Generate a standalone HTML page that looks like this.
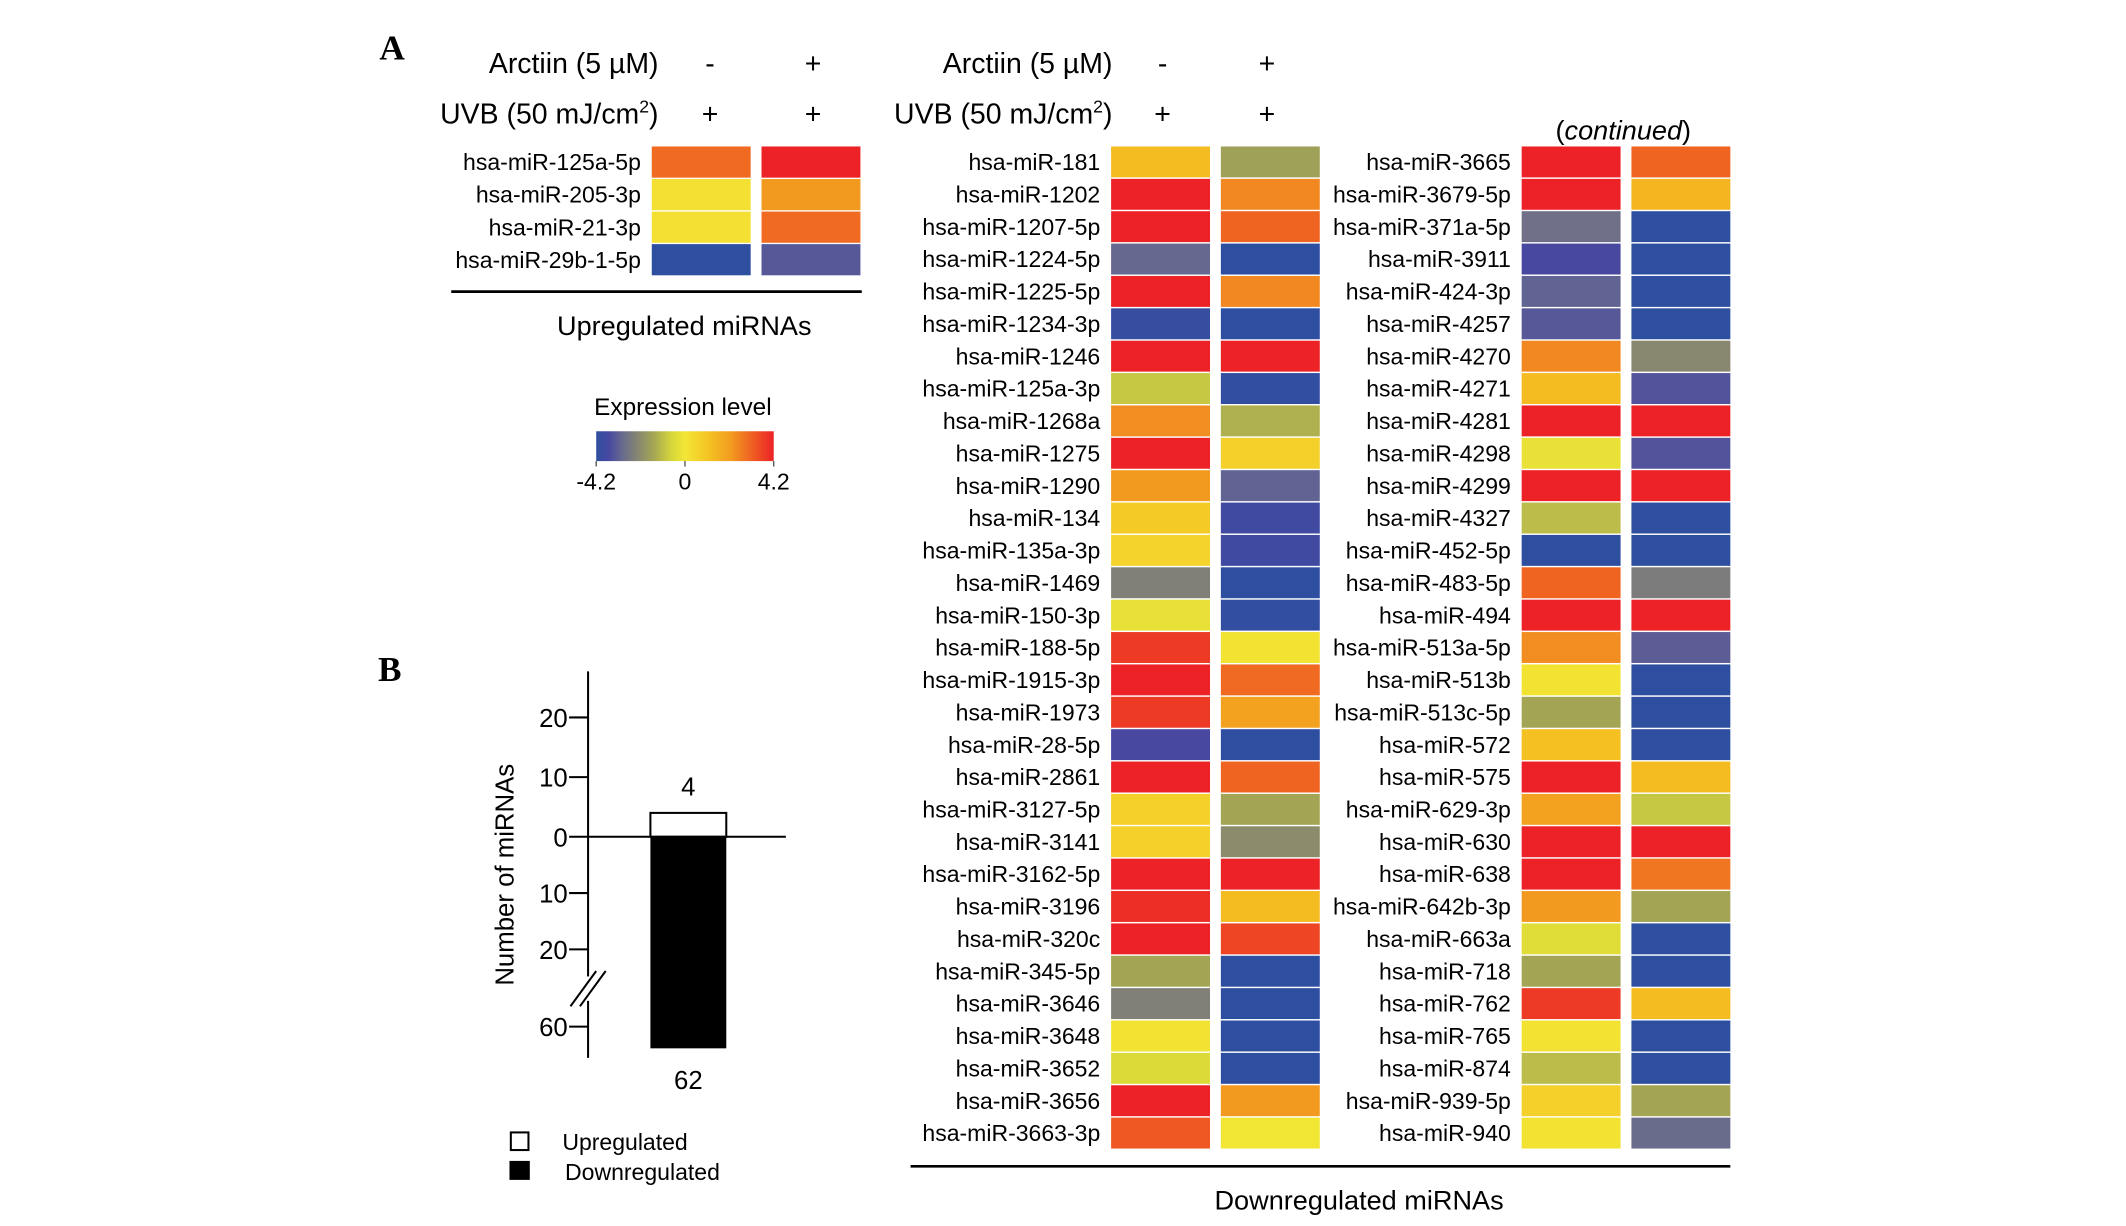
<!DOCTYPE html>
<html><head><meta charset="utf-8">
<style>
html,body{margin:0;padding:0;background:#fff;}
svg{display:block;font-family:"Liberation Sans",Arial,sans-serif;}
</style></head>
<body>
<svg id="fig" width="2126" height="1226" viewBox="0 0 1569 904" preserveAspectRatio="none" xmlns="http://www.w3.org/2000/svg">
<defs>
<linearGradient id="cbar" x1="0" x2="1" y1="0" y2="0">
<stop offset="0" stop-color="#2e4fa0"/><stop offset="0.071" stop-color="#4848a0"/>
<stop offset="0.143" stop-color="#666890"/><stop offset="0.214" stop-color="#808078"/>
<stop offset="0.321" stop-color="#a3a555"/><stop offset="0.429" stop-color="#d8d83a"/>
<stop offset="0.5" stop-color="#f2e635"/><stop offset="0.643" stop-color="#f5c022"/>
<stop offset="0.762" stop-color="#f29a20"/><stop offset="0.857" stop-color="#f06a22"/>
<stop offset="1" stop-color="#ec2227"/>
</linearGradient>
</defs>
<text x="280" y="44" font-family="Liberation Serif,serif" font-weight="bold" font-size="26">A</text>
<text x="279" y="502" font-family="Liberation Serif,serif" font-weight="bold" font-size="26">B</text>
<g id="heat"></g>
<g id="bars"></g>
</svg>
<script>
const upNames=["hsa-miR-125a-5p","hsa-miR-205-3p","hsa-miR-21-3p","hsa-miR-29b-1-5p"];
const upCtrl=[3.0,0.2,0.2,-4.2];
const upArc=[4.2,2.2,3.0,-3.3];
const downNames1=["hsa-miR-181","hsa-miR-1202","hsa-miR-1207-5p","hsa-miR-1224-5p","hsa-miR-1225-5p","hsa-miR-1234-3p","hsa-miR-1246","hsa-miR-125a-3p","hsa-miR-1268a","hsa-miR-1275","hsa-miR-1290","hsa-miR-134","hsa-miR-135a-3p","hsa-miR-1469","hsa-miR-150-3p","hsa-miR-188-5p","hsa-miR-1915-3p","hsa-miR-1973","hsa-miR-28-5p","hsa-miR-2861","hsa-miR-3127-5p","hsa-miR-3141","hsa-miR-3162-5p","hsa-miR-3196","hsa-miR-320c","hsa-miR-345-5p","hsa-miR-3646","hsa-miR-3648","hsa-miR-3652","hsa-miR-3656","hsa-miR-3663-3p"];
const downCtrl1=[1.3,4.2,4.2,-3.0,4.2,-4.0,4.2,-0.9,2.4,4.2,2.2,0.9,0.6,-2.4,-0.2,3.8,4.2,3.8,-3.6,4.2,0.7,0.7,4.2,4.0,4.2,-1.5,-2.4,0.1,-0.5,4.2,3.3];
const downArc1=[-1.6,2.5,3.1,-4.2,2.5,-4.2,4.2,-4.1,-1.3,0.7,-3.1,-3.8,-3.8,-4.2,-4.1,0.1,3.0,2.0,-4.2,3.1,-1.5,-2.1,4.2,1.3,3.6,-4.2,-4.2,-4.2,-4.2,2.2,0.0];
const downNames2=["hsa-miR-3665","hsa-miR-3679-5p","hsa-miR-371a-5p","hsa-miR-3911","hsa-miR-424-3p","hsa-miR-4257","hsa-miR-4270","hsa-miR-4271","hsa-miR-4281","hsa-miR-4298","hsa-miR-4299","hsa-miR-4327","hsa-miR-452-5p","hsa-miR-483-5p","hsa-miR-494","hsa-miR-513a-5p","hsa-miR-513b","hsa-miR-513c-5p","hsa-miR-572","hsa-miR-575","hsa-miR-629-3p","hsa-miR-630","hsa-miR-638","hsa-miR-642b-3p","hsa-miR-663a","hsa-miR-718","hsa-miR-762","hsa-miR-765","hsa-miR-874","hsa-miR-939-5p","hsa-miR-940"];
const downCtrl2=[4.2,4.2,-2.8,-3.6,-3.1,-3.3,2.5,1.3,4.2,-0.2,4.2,-1.1,-4.2,3.1,4.2,2.4,0.1,-1.5,1.2,4.2,2.0,4.2,4.2,2.2,-0.4,-1.5,3.8,0.1,-1.1,0.7,0.1];
const downArc2=[3.1,1.5,-4.2,-4.2,-4.2,-4.2,-2.2,-3.4,4.2,-3.4,4.2,-4.2,-4.2,-2.5,4.2,-3.2,-4.2,-4.2,-4.2,1.3,-0.9,4.2,2.8,-1.5,-4.2,-4.2,1.3,-4.2,-4.2,-1.5,-2.9];
const cbarTicks=[-4.2,0,4.2];
const barCats=["Upregulated","Downregulated"];
const barVals=[4,62];
const yTicksUp=[20,10,0];
const yTicksDown=[10,20,60];

const NS="http://www.w3.org/2000/svg";
function mk(tag,attrs,parent,text){const e=document.createElementNS(NS,tag);for(const k in attrs)e.setAttribute(k,attrs[k]);if(text!==undefined)e.textContent=text;parent.appendChild(e);return e;}
const stops=[[-4.2,[46,79,160]],[-3.6,[72,72,160]],[-3.0,[102,104,144]],[-2.4,[128,128,120]],[-1.5,[163,165,85]],[-0.6,[216,216,58]],[0,[242,230,53]],[1.2,[245,192,34]],[2.2,[242,154,32]],[3.0,[240,106,34]],[4.2,[236,34,39]]];
function cmap(v){v=Math.max(-4.2,Math.min(4.2,v));for(let i=0;i<stops.length-1;i++){const a=stops[i],b=stops[i+1];if(v<=b[0]){const t=(v-a[0])/(b[0]-a[0]);const c=a[1].map((x,j)=>Math.round(x+(b[1][j]-x)*t));return `rgb(${c})`;}}return "rgb(236,34,39)";}
const heat=document.getElementById('heat');
function header(xEnd,xMinus,xPlus){
  let t=mk('text',{x:xEnd,y:54,'text-anchor':'end','font-size':21},heat,'Arctiin (5 µM)');
  
  
  t=mk('text',{x:xEnd,y:91,'text-anchor':'end','font-size':21},heat);
  
  
  t.appendChild(document.createTextNode('UVB (50 mJ/cm'));
  mk('tspan',{'font-size':13,dy:-8},t,'2');
  mk('tspan',{dy:8},t,')');
  [[xMinus,54,'-'],[xPlus,54,'+'],[xMinus,91,'+'],[xPlus,91,'+']].forEach(p=>{
    const m=mk('text',{x:p[0],y:p[1],'text-anchor':'middle','font-size':21},heat,p[2]);
    
    
  });
}
header(486,524,600);
header(821,858,935);
function column(names,c1,c2,labelX,x1,x2,y0,pitch,h,w){
  names.forEach((n,i)=>{
    const y=y0+i*pitch;
    const l=mk('text',{x:labelX,y:y+h/2+6,'text-anchor':'end','font-size':17},heat,n);
    
    
    const r1=mk('rect',{x:x1,y:y,width:w,height:h,fill:cmap(c1[i])},heat);
    
    
    const r2=mk('rect',{x:x2,y:y,width:w,height:h,fill:cmap(c2[i])},heat);
    
    
  });
}
column(upNames,upCtrl,upArc,473,481,562,108,24,23,73);
column(downNames1,downCtrl1,downArc1,812,820,901,108,23.87,22.8,73);
column(downNames2,downCtrl2,downArc2,1115,1123,1204,108,23.87,22.8,73);
let e;
e=mk('line',{x1:333,x2:636,y1:215,y2:215,stroke:'#000','stroke-width':2},heat);


e=mk('text',{x:505,y:247,'text-anchor':'middle','font-size':20},heat,'Upregulated miRNAs');


e=mk('line',{x1:672,x2:1277,y1:860,y2:860,stroke:'#000','stroke-width':2},heat);


e=mk('text',{x:1003,y:892,'text-anchor':'middle','font-size':20},heat,'Downregulated miRNAs');


e=mk('text',{x:1198,y:103,'text-anchor':'middle','font-size':20},heat);


e.appendChild(document.createTextNode('('));
mk('tspan',{'font-style':'italic'},e,'continued');
e.appendChild(document.createTextNode(')'));
e=mk('text',{x:504,y:306,'text-anchor':'middle','font-size':18},heat,'Expression level');


e=mk('rect',{x:440,y:318,width:131,height:22,fill:'url(#cbar)'},heat);


const cx=v=>440+(v+4.2)/8.4*131;
cbarTicks.forEach(v=>{
  const tk=mk('line',{x1:cx(v),x2:cx(v),y1:340,y2:344,stroke:'#555','stroke-width':1},heat);
  
  
  const tl=mk('text',{x:cx(v),y:361,'text-anchor':'middle','font-size':17},heat,String(v));
  
  
});
const bars=document.getElementById('bars');
function yUp(v){return 617-v*4.4;}
function yDown(v){return v<=20?617+v*4.15:757+(v-60)*8;}
e=mk('line',{x1:434,x2:434,y1:495,y2:780,stroke:'#000','stroke-width':1.5},bars);


yTicksUp.forEach(v=>{
  const y=yUp(v);
  const l=mk('line',{x1:420,x2:434,y1:y,y2:y,stroke:'#000','stroke-width':1.5},bars);
  
  
  const t=mk('text',{x:419,y:y+7,'text-anchor':'end','font-size':19},bars,String(v));
  
  
});
yTicksDown.forEach(v=>{
  const y=yDown(v);
  const l=mk('line',{x1:420,x2:434,y1:y,y2:y,stroke:'#000','stroke-width':1.5},bars);
  
  
  const t=mk('text',{x:419,y:y+7,'text-anchor':'end','font-size':19},bars,String(v));
  
  
});
e=mk('rect',{x:428,y:720,width:12,height:18,fill:'#fff'},bars);


[0,7].forEach(d=>{
  const b=mk('line',{x1:421+d,x2:440+d,y1:742,y2:716,stroke:'#000','stroke-width':1.5},bars);
  
  
});
const bx=480,bw=56;
e=mk('rect',{x:bx,y:yUp(barVals[0]),width:bw,height:617-yUp(barVals[0]),fill:'#fff',stroke:'#000','stroke-width':1.5},bars);


e=mk('rect',{x:bx,y:617,width:bw,height:yDown(barVals[1])-617,fill:'#000'},bars);


e=mk('line',{x1:434,x2:580,y1:617,y2:617,stroke:'#000','stroke-width':1.5},bars);


e=mk('text',{x:bx+bw/2,y:yUp(barVals[0])-13,'text-anchor':'middle','font-size':19},bars,String(barVals[0]));


e=mk('text',{x:bx+bw/2,y:yDown(barVals[1])+30,'text-anchor':'middle','font-size':19},bars,String(barVals[1]));


e=mk('text',{x:0,y:0,'text-anchor':'middle','font-size':19,transform:'translate(379,645) rotate(-90)'},bars,'Number of miRNAs');


e=mk('rect',{x:377,y:835,width:13,height:13,fill:'#fff',stroke:'#000','stroke-width':1.5},bars);


e=mk('rect',{x:376,y:856,width:15,height:14,fill:'#000'},bars);


e=mk('text',{x:415,y:848,'font-size':17},bars,barCats[0]);


e=mk('text',{x:417,y:870,'font-size':17},bars,barCats[1]);


</script>
</body></html>
